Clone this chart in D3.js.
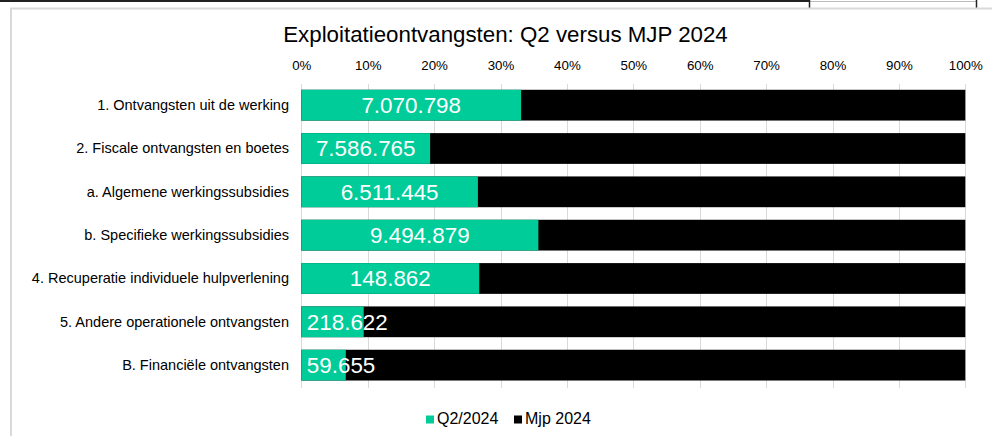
<!DOCTYPE html>
<html>
<head>
<meta charset="utf-8">
<script src="https://cdn.jsdelivr.net/npm/d3@7"></script>
<style>
  body { margin: 0; background: #fff; }
  text { font-family: "Liberation Sans", Arial, sans-serif; }
</style>
</head>
<body>
<div class="chart"></div>
<script>
// chart data
var categories = [
  "1. Ontvangsten uit de werking",
  "2. Fiscale ontvangsten en boetes",
  "a. Algemene werkingssubsidies",
  "b. Specifieke werkingssubsidies",
  "4. Recuperatie individuele hulpverlening",
  "5. Andere operationele ontvangsten",
  "B. Financiële ontvangsten"
];
var q2Values = [7070798, 7586765, 6511445, 9494879, 148862, 218622, 59655];
// remaining part
var mjpValues = [14290000, 31520000, 17970000, 17100000, 406600, 2107000, 830900];
var tickValues = [0, 0.1, 0.2, 0.3, 0.4, 0.5, 0.6, 0.7, 0.8, 0.9, 1];
var seriesNames = ["Q2/2024", "Mjp 2024"];
var colors = ["#00cc99", "#000000"];

var svgWidth = 992, svgHeight = 436;

var svg = d3.select(".chart").append("svg")
  .attr("width", svgWidth)
  .attr("height", svgHeight);

// spreadsheet cell borders above the chart
svg.append("line").attr("x1", 0).attr("x2", 809).attr("y1", 1).attr("y2", 1)
  .attr("stroke", "#222").attr("stroke-width", 2);
svg.append("line").attr("x1", 809).attr("x2", 977).attr("y1", 1.5).attr("y2", 1.5)
  .attr("stroke", "#bbb").attr("stroke-width", 1);
svg.append("line").attr("x1", 809.5).attr("x2", 809.5).attr("y1", 0).attr("y2", 8)
  .attr("stroke", "#222").attr("stroke-width", 1.5);
svg.append("line").attr("x1", 976.5).attr("x2", 976.5).attr("y1", 0).attr("y2", 8)
  .attr("stroke", "#222").attr("stroke-width", 1.5);

// chart area border
svg.append("path")
  .attr("d", "M11,436 V8.5 H992")
  .attr("fill", "none")
  .attr("stroke", "#d9d9d9")
  .attr("stroke-width", 2);

// title
svg.append("text")
  .attr("x", 505.5)
  .attr("y", 42)
  .attr("text-anchor", "middle")
  .attr("font-size", 22.3)
  .attr("fill", "#000")
  .text("Exploitatieontvangsten: Q2 versus MJP 2024");

var data = categories.map(function(c, i) {
  var total = q2Values[i] + mjpValues[i];
  return { cat: c, q2: q2Values[i], share: q2Values[i] / total };
});

var x = d3.scaleLinear().domain([0, 1]).range([301.3, 965.3]);
var y = d3.scaleBand().domain(categories).range([83.5, 386.8]).paddingInner(0.29).paddingOuter(0.145);

// gridlines
svg.append("g").selectAll("line")
  .data(tickValues)
  .enter().append("line")
  .attr("x1", d => Math.round(x(d)) + 0.5)
  .attr("x2", d => Math.round(x(d)) + 0.5)
  .attr("y1", 84)
  .attr("y2", 388)
  .attr("stroke", "#d9d9d9")
  .attr("stroke-width", 1);

// top axis labels
var xAxis = d3.axisTop(x).tickValues(tickValues).tickFormat(d3.format(".0%")).tickSize(0).tickPadding(0);
var gx = svg.append("g").attr("transform", "translate(0,70)").call(xAxis);
gx.select(".domain").remove();
gx.selectAll("text").attr("font-size", 13.3).attr("fill", "#000").attr("font-family", null).attr("dy", 0);

// category labels
svg.append("g").selectAll("text")
  .data(data)
  .enter().append("text")
  .attr("x", 289)
  .attr("y", d => y(d.cat) + y.bandwidth() / 2 + 5)
  .attr("text-anchor", "end")
  .attr("font-size", 14.5)
  .attr("fill", "#000")
  .text(d => d.cat);

// black (Mjp) bars = full width
svg.append("g").selectAll("rect")
  .data(data)
  .enter().append("rect")
  .attr("x", x(0))
  .attr("y", d => y(d.cat))
  .attr("width", x(1) - x(0))
  .attr("height", y.bandwidth())
  .attr("fill", colors[1]);

// green (Q2) bars
svg.append("g").selectAll("rect")
  .data(data)
  .enter().append("rect")
  .attr("x", x(0))
  .attr("y", d => y(d.cat))
  .attr("width", d => x(d.share) - x(0))
  .attr("height", y.bandwidth())
  .attr("fill", colors[0]);

// value labels
var fmt = d => d3.format(",")(d).replace(/,/g, ".");
var labels = svg.append("g").selectAll("text")
  .data(data)
  .enter().append("text")
  .attr("y", d => y(d.cat) + y.bandwidth() / 2 + 8)
  .attr("font-size", 22.4)
  .attr("fill", "#fff")
  .text(d => fmt(d.q2));

labels.each(function(d) {
  var w = this.getComputedTextLength();
  var cx = (x(0) + x(d.share)) / 2;
  var left = Math.max(cx - w / 2, x(0) + 5.5);
  d3.select(this).attr("x", left);
});

// legend
var legend = svg.append("g");
var legendX = [426, 514];
seriesNames.forEach(function(name, i) {
  legend.append("rect")
    .attr("x", legendX[i])
    .attr("y", 415.5)
    .attr("width", 8)
    .attr("height", 8)
    .attr("fill", colors[i]);
  legend.append("text")
    .attr("x", legendX[i] + 11)
    .attr("y", 424)
    .attr("font-size", 16)
    .attr("fill", "#000")
    .text(name);
});
</script>
</body>
</html>
